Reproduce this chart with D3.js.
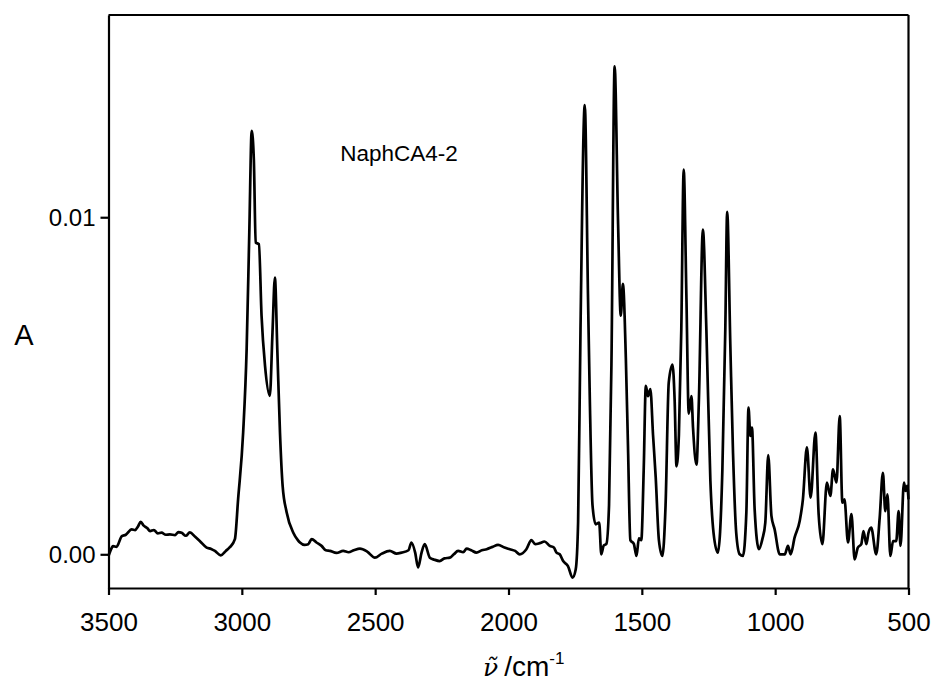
<!DOCTYPE html>
<html><head><meta charset="utf-8">
<script src="https://cdn.jsdelivr.net/npm/d3@7"></script>
<style>body{margin:0;background:#fff}svg{display:block}</style>
</head><body>
<svg id="c" width="936" height="688"></svg>
<script>
const wavenumbers = [3500,3493,3483,3470,3450,3435,3413,3400,3390,3379,3368,3355,3344,3330,3315,3301,3285,3270,3250,3238,3226,3210,3195,3175,3157,3132,3115,3101,3079,3060,3045,3026,3014,2995,2982,2972,2963,2955,2948,2936,2926,2913,2895,2885,2876,2867,2857,2847,2832,2807,2790,2782,2765,2751,2738,2720,2701,2685,2670,
2645,2620,2600,2580,2557,2530,2501,2475,2445,2420,2401,2375,2364,2350,2339,2326,2314,2295,2278,2258,2240,2220,2205,2189,2170,2157,2140,2120,2100,2082,2060,2039,2015,1995,1975,1958,1933,1914,1900,1883,1865,1845,1830,1820,1808,1795,1777,1760,1748,
1739,1730,1714,1702,1695,1685,1673,1660,1652,1643,1633,1623,1614,1602,1589,1579,1571,1560,1552,1543,1530,1520,1511,1502,1493,1485,1477,1468,1458,1448,1436,1423,1411,1399,1385,1377,1370,1361,1352,1343,1333,1324,1314,1308,1295,1286,1271,1258,1243,1231,1215,1198,1187,1180,1168,1158,1146,1133,1121,1108,1100,1093,1087,1077,1061,1048,1037,1026,1014,1002,983,964,952,942,927,908,896,881,867,849,837,823,806,793,783,770,758,748,740,727,714,702,690,677,669,658,650,640,621,608,596,587,579,568,558,546,537,530,517,511,505,500];
const absorbance_milli = [-0.05,0.10,0.24,0.22,0.54,0.58,0.74,0.72,0.82,0.96,0.85,0.78,0.69,0.72,0.62,0.64,0.58,0.59,0.57,0.66,0.64,0.55,0.65,0.52,0.39,0.20,0.16,0.10,-0.03,0.10,0.21,0.45,1.63,3.62,6.08,9.55,12.56,11.72,9.25,9.20,7.07,5.59,4.70,6.59,8.21,6.08,3.62,2.03,1.25,0.64,0.42,0.35,0.28,0.30,0.45,0.35,0.25,0.12,0.10,
0.04,0.10,0.06,0.12,0.17,0.08,-0.10,0.02,0.10,0.02,0.05,0.12,0.35,0.05,-0.39,0.05,0.30,-0.10,-0.16,-0.20,-0.12,-0.10,0.00,0.10,0.06,0.17,0.12,0.05,0.12,0.15,0.22,0.28,0.20,0.15,0.10,0,0.15,0.42,0.30,0.33,0.38,0.25,0.20,0.05,0.00,-0.20,-0.35,-0.69,-0.45,
0.95,6.67,13.33,7.71,4.58,1.46,0.89,0.94,0,0.26,0.31,1.46,5.63,14.48,9.79,7.08,8.02,5.83,3.23,0.42,0.31,-0.05,0.47,0.42,2.50,5.0,4.69,4.90,3.54,2.29,0.42,-0.05,1.46,5.10,5.63,4.58,2.61,3.54,6.67,11.41,7.71,4.17,4.69,3.75,2.66,4.58,9.63,6.67,2.19,0.63,0.05,2.50,6.67,10.16,6.15,3.0,0.63,0,-0.05,1.25,4.35,3.51,3.76,1.34,0.15,0.45,0.94,2.94,1.14,0.74,0,0,0.25,0,0.50,0.99,1.63,3.17,1.68,3.61,1.19,0.30,2.13,1.73,2.52,2.13,4.10,1.53,1.63,0.35,1.19,-0.15,0.20,0.30,0.69,0.30,0.64,0.79,0,1.09,2.42,1.28,1.78,-0.05,0.39,0.39,1.28,0.25,2.13,1.88,2.03,1.63];
const xTicks = [3500,3000,2500,2000,1500,1000,500];
const yTicks = [0.00,0.01];
const sampleLabel = "NaphCA4-2";

const svg = d3.select("#c");
const L=108.5, R=908.5, T=15, B=588;
const x = d3.scaleLinear().domain([3500,500]).range([L,R]);
const y = d3.scaleLinear().domain([-0.001,0.016]).range([B,T]);
const data = wavenumbers.map((w,i)=>({w, a: absorbance_milli[i]/1000}));

const font = "Liberation Sans, Arial, sans-serif";

svg.append("path").datum(data)
  .attr("fill","none").attr("stroke","#000").attr("stroke-width",2.7)
  .attr("stroke-linejoin","round")
  .attr("d", d3.line().x(d=>x(d.w)).y(d=>y(d.a)).curve(d3.curveMonotoneX));

const xAxis = svg.append("g").attr("transform",`translate(0,${B})`)
  .call(d3.axisBottom(x).tickValues(xTicks).tickFormat(d3.format("d")).tickSize(7).tickSizeOuter(0));
const yAxis = svg.append("g").attr("transform",`translate(${L},0)`)
  .call(d3.axisLeft(y).tickValues(yTicks).tickFormat(d3.format(".2f")).tickSize(8).tickSizeOuter(0));
[xAxis,yAxis].forEach(g=>{
  g.select(".domain").attr("stroke","#000").attr("stroke-width",2.2);
  g.selectAll(".tick line").attr("stroke","#000").attr("stroke-width",2.2);
  g.selectAll(".tick text").attr("fill","#000").style("font-family",font);
});
xAxis.selectAll(".tick text").style("font-size","26px").attr("y",43).attr("dy",0);
yAxis.selectAll(".tick text").style("font-size","24px").attr("dy","0.36em").attr("x",-13);

// frame top and right
svg.append("line").attr("x1",L).attr("x2",R).attr("y1",T).attr("y2",T).attr("stroke","#000").attr("stroke-width",2.2);
svg.append("line").attr("x1",R).attr("x2",R).attr("y1",T).attr("y2",B).attr("stroke","#000").attr("stroke-width",2.2);

svg.append("text").attr("x",399).attr("y",161).attr("text-anchor","middle")
  .style("font-family",font).style("font-size","22.5px").text(sampleLabel);

svg.append("text").attr("x",24).attr("y",345).attr("text-anchor","middle")
  .style("font-family",font).style("font-size","29px").text("A");

// x-axis title: ν̃ /cm⁻¹ (single text element)
const xt = svg.append("text").attr("x",483).attr("y",676)
  .style("font-family",font).style("font-size","28px");
xt.append("tspan").style("font-family","DejaVu Serif, serif").style("font-style","italic")
  .style("font-size","25px").text("\u03BD\u0303");
xt.append("tspan").attr("dx",6).text("/cm");
xt.append("tspan").attr("dy",-12).style("font-size","17px").text("-1");
</script>
</body></html>
